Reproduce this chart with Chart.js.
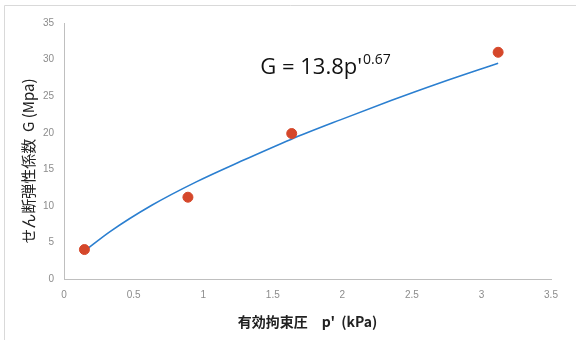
<!DOCTYPE html>
<html>
<head>
<meta charset="utf-8">
<script src="https://cdn.jsdelivr.net/npm/chart.js@4.4.1/dist/chart.umd.min.js"></script>
<style>
  html, body { margin: 0; padding: 0; background: #fff; }
  #wrap { width: 576px; height: 340px; position: relative; }
</style>
</head>
<body>
<div id="wrap"><canvas id="chart" width="576" height="340"></canvas></div>
<script>
// measured points (p', G)
var measP = [0.146, 0.89, 1.636, 3.12];
var measG = [4.05, 11.2, 19.9, 31.0];

// trend curve
var trendP = [0.15, 0.33, 0.63, 0.95, 1.27, 1.63, 1.99, 2.35, 2.70, 3.12];
var trendG = [3.9, 6.5, 10.1, 13.3, 16.1, 19.1, 21.8, 24.4, 26.8, 29.5];

var xTicks = [0, 0.5, 1, 1.5, 2, 2.5, 3, 3.5];
var yTicks = [0, 5, 10, 15, 20, 25, 30, 35];

var yTitle = 'せん断弾性係数  G (Mpa)';
var xTitle = "有効拘束圧　p'  (kPa)";
var eqMain = "G = 13.8p'";
var eqExp = "0.67";
var eqAt = { x: 1.41, y: 28.0 };

function toPoints(xs, ys) {
    var pts = [];
    for (var i = 0; i < xs.length; i++) {
        pts.push({ x: xs[i], y: ys[i] });
    }
    return pts;
}

// light frame along the top and left edge
const framePlugin = {
    id: 'frame',
    beforeDraw: function (chart) {
        var ctx = chart.ctx;
        ctx.save();
        ctx.strokeStyle = '#d9d9d9';
        ctx.lineWidth = 1;
        ctx.beginPath();
        ctx.moveTo(576, 5.5);
        ctx.lineTo(4.5, 5.5);
        ctx.lineTo(4.5, 340);
        ctx.stroke();
        ctx.restore();
    }
};

// y title drawn by hand so it can sit close to the tick labels
const yTitlePlugin = {
    id: 'ytitle',
    afterDraw: function (chart) {
        var ctx = chart.ctx;
        var area = chart.chartArea;
        ctx.save();
        ctx.translate(28, (area.top + area.bottom) / 2 + 10);
        ctx.rotate(-Math.PI / 2);
        ctx.fillStyle = '#222';
        ctx.textAlign = 'center';
        ctx.textBaseline = 'middle';
        ctx.font = '15px "Noto Sans CJK JP", sans-serif';
        ctx.fillText(yTitle, 0, 0);
        ctx.restore();
    }
};

// equation label with superscript
const equationPlugin = {
    id: 'equation',
    afterDatasetsDraw: function (chart) {
        var ctx = chart.ctx;
        var x = chart.scales.x.getPixelForValue(eqAt.x);
        var y = chart.scales.y.getPixelForValue(eqAt.y);
        ctx.save();
        ctx.fillStyle = '#111';
        ctx.textBaseline = 'alphabetic';
        ctx.font = '22px "Open Sans", "Liberation Sans", sans-serif';
        ctx.fillText(eqMain, x, y);
        var w = ctx.measureText(eqMain).width;
        ctx.font = '14px "Open Sans", "Liberation Sans", sans-serif';
        ctx.fillText(eqExp, x + w + 1, y - 10);
        ctx.restore();
    }
};

const tickFont = { family: '"Liberation Sans", sans-serif', size: 10 };

function plainTick(value) {
    return String(value);
}

const config = {
    type: 'scatter',
    data: {
        datasets: [{
            label: 'measured',
            data: toPoints(measP, measG),
            backgroundColor: '#d5472a',
            borderColor: '#d5472a',
            pointRadius: 5,
            pointHoverRadius: 5,
            order: 1
        }, {
            label: 'trend',
            type: 'line',
            data: toPoints(trendP, trendG),
            borderColor: '#2b7fd0',
            borderWidth: 1.6,
            pointRadius: 0,
            fill: false,
            cubicInterpolationMode: 'monotone',
            order: 2
        }]
    },
    options: {
        responsive: false,
        animation: false,
        layout: { padding: { left: 33, right: 25, top: 23, bottom: 10 } },
        plugins: {
            legend: { display: false },
            tooltip: { enabled: false }
        },
        scales: {
            x: {
                type: 'linear',
                min: 0,
                max: 3.5,
                afterBuildTicks: function (axis) {
                    axis.ticks = xTicks.map(function (v) { return { value: v }; });
                },
                grid: { display: false, drawTicks: false },
                border: { display: true, color: '#bfbfbf', width: 1 },
                ticks: { color: '#8c8c8c', font: tickFont, padding: 10, maxRotation: 0, callback: plainTick },
                title: {
                    display: true,
                    text: xTitle,
                    color: '#222',
                    font: { family: '"Noto Sans CJK JP", sans-serif', size: 14, weight: 'bold' },
                    padding: { top: 2, bottom: 0 }
                }
            },
            y: {
                type: 'linear',
                min: 0,
                max: 35,
                afterBuildTicks: function (axis) {
                    axis.ticks = yTicks.map(function (v) { return { value: v }; });
                },
                grid: { display: false, drawTicks: false },
                border: { display: true, color: '#bfbfbf', width: 1 },
                ticks: { color: '#8c8c8c', font: tickFont, padding: 10, callback: plainTick }
            }
        }
    },
    plugins: [framePlugin, yTitlePlugin, equationPlugin]
};

const lineChart = new Chart(document.getElementById('chart'), config);
</script>
</body>
</html>
